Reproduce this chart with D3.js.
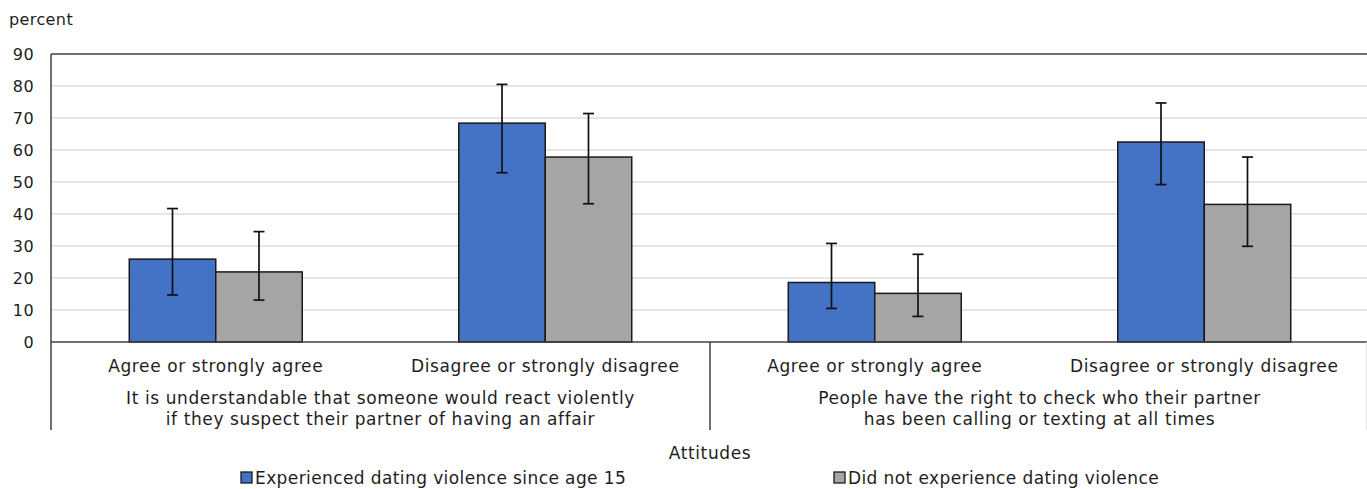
<!DOCTYPE html>
<html>
<head>
<meta charset="utf-8">
<script src="https://cdn.jsdelivr.net/npm/d3@7"></script>
<style>
  body { margin: 0; background: #fff; }
  text { font-family: "DejaVu Sans", Verdana, sans-serif; fill: #1e1e1e; }
  .lbl { font-size: 17px; letter-spacing: 0.6px; }
</style>
</head>
<body>
<div id="chart"></div>
<script>
// data
let categories = ['Agree or strongly agree', 'Disagree or strongly disagree',
                  'Agree or strongly agree', 'Disagree or strongly disagree'];
let groupLabels = [
    ['It is understandable that someone would react violently', 'if they suspect their partner of having an affair'],
    ['People have the right to check who their partner', 'has been calling or texting at all times']
];
let seriesNames = ['Experienced dating violence since age 15', 'Did not experience dating violence'];
let experienced = [25.9, 68.4, 18.6, 62.5];
let experiencedLow = [14.7, 52.9, 10.5, 49.2];
let experiencedHigh = [41.7, 80.5, 30.8, 74.7];
let notExperienced = [21.9, 57.8, 15.2, 43.0];
let notExperiencedLow = [13.1, 43.2, 8.0, 29.9];
let notExperiencedHigh = [34.5, 71.4, 27.4, 57.8];
let yTicks = [0, 10, 20, 30, 40, 50, 60, 70, 80, 90];
let colors = ['#4472C4', '#A5A5A5'];

let width = 1367, height = 489;
let plotLeft = 51, plotRight = 1369, plotTop = 54, plotBottom = 342;

let svg = d3.select('#chart')
    .append('svg')
    .attr('width', width)
    .attr('height', height);

let rows = categories.map((c, i) => ({
    key: i, label: c,
    vals: [
        { s: 0, v: experienced[i], lo: experiencedLow[i], hi: experiencedHigh[i] },
        { s: 1, v: notExperienced[i], lo: notExperiencedLow[i], hi: notExperiencedHigh[i] }
    ]
}));

let x0 = d3.scaleBand()
    .domain(rows.map(d => d.key))
    .range([plotLeft, plotRight])
    .padding(0);

let x1 = d3.scaleBand()
    .domain([0, 1])
    .range([0, x0.bandwidth()])
    .paddingInner(0)
    .paddingOuter(0.905);

let y = d3.scaleLinear()
    .domain([0, 90])
    .range([plotBottom, plotTop]);

// grid
svg.append('g')
    .selectAll('line')
    .data(yTicks.filter(t => t > 0 && t < 90))
    .enter()
    .append('line')
    .attr('x1', plotLeft).attr('x2', plotRight)
    .attr('y1', d => y(d)).attr('y2', d => y(d))
    .attr('stroke', '#dcdcdc')
    .attr('stroke-width', 1.5);

// top border
svg.append('line')
    .attr('x1', plotLeft).attr('x2', plotRight)
    .attr('y1', y(90)).attr('y2', y(90))
    .attr('stroke', '#404040')
    .attr('stroke-width', 1.5);

// y axis labels
let yAxis = d3.axisLeft(y).tickValues(yTicks).tickSize(0).tickPadding(17);
let yg = svg.append('g')
    .attr('transform', `translate(${plotLeft},0)`)
    .call(yAxis);
yg.select('.domain').remove();
yg.selectAll('text')
    .style('font-size', '16px')
    .style('font-family', '"DejaVu Sans", Verdana, sans-serif')
    .style('letter-spacing', '0.4px')
    .attr('fill', '#1e1e1e');

svg.append('text')
    .attr('x', 9).attr('y', 25)
    .style('font-size', '16px')
    .style('letter-spacing', '0.4px')
    .text('percent');

// bars
let groups = svg.append('g')
    .selectAll('g')
    .data(rows)
    .enter()
    .append('g')
    .attr('transform', d => `translate(${x0(d.key)},0)`);

groups.selectAll('rect')
    .data(d => d.vals)
    .enter()
    .append('rect')
    .attr('x', d => x1(d.s))
    .attr('y', d => y(d.v))
    .attr('width', x1.bandwidth())
    .attr('height', d => y(0) - y(d.v))
    .attr('fill', d => colors[d.s])
    .attr('stroke', '#1a1a1a')
    .attr('stroke-width', 1.5);

// error bars
let errs = groups.selectAll('g.err')
    .data(d => d.vals)
    .enter()
    .append('g')
    .attr('class', 'err')
    .attr('stroke', '#111')
    .attr('stroke-width', 1.7);

let cx = d => x1(d.s) + x1.bandwidth() / 2;
errs.append('line')
    .attr('x1', cx).attr('x2', cx)
    .attr('y1', d => y(d.hi)).attr('y2', d => y(d.lo));
errs.append('line')
    .attr('x1', d => cx(d) - 5.5).attr('x2', d => cx(d) + 5.5)
    .attr('y1', d => y(d.hi)).attr('y2', d => y(d.hi));
errs.append('line')
    .attr('x1', d => cx(d) - 5.5).attr('x2', d => cx(d) + 5.5)
    .attr('y1', d => y(d.lo)).attr('y2', d => y(d.lo));

// axes lines
svg.append('line')
    .attr('x1', plotLeft).attr('x2', plotRight)
    .attr('y1', y(0)).attr('y2', y(0))
    .attr('stroke', '#404040')
    .attr('stroke-width', 1.5);

[plotLeft, x0(2), plotRight - 2].forEach((xx, i) => {
    svg.append('line')
        .attr('x1', xx).attr('x2', xx)
        .attr('y1', i === 0 ? y(90) : y(0)).attr('y2', 430)
        .attr('stroke', i === 2 ? '#dcdcdc' : '#404040')
        .attr('stroke-width', 1.5);
});

// category labels
svg.append('g')
    .selectAll('text')
    .data(rows)
    .enter()
    .append('text')
    .attr('class', 'lbl')
    .attr('x', d => x0(d.key) + x0.bandwidth() / 2)
    .attr('y', 372)
    .attr('text-anchor', 'middle')
    .text(d => d.label);

// group labels
groupLabels.forEach((lines, g) => {
    let gx = (x0(g * 2) + x0(g * 2 + 1) + x0.bandwidth()) / 2;
    lines.forEach((t, j) => {
        svg.append('text')
            .attr('class', 'lbl')
            .attr('x', gx)
            .attr('y', 404 + j * 21)
            .attr('text-anchor', 'middle')
            .text(t);
    });
});

svg.append('text')
    .attr('class', 'lbl')
    .attr('x', (plotLeft + plotRight) / 2)
    .attr('y', 459)
    .attr('text-anchor', 'middle')
    .text('Attitudes');

// legend
let legendX = [241, 834];
let legend = svg.append('g')
    .selectAll('g')
    .data(seriesNames)
    .enter()
    .append('g')
    .attr('transform', (d, i) => `translate(${legendX[i]},472)`);

legend.append('rect')
    .attr('width', 11).attr('height', 11)
    .attr('fill', (d, i) => colors[i])
    .attr('stroke', '#1a1a1a')
    .attr('stroke-width', 1.3);

legend.append('text')
    .attr('class', 'lbl')
    .attr('x', 14)
    .attr('y', 12)
    .style('letter-spacing', '0.4px')
    .text(d => d);
</script>
</body>
</html>
